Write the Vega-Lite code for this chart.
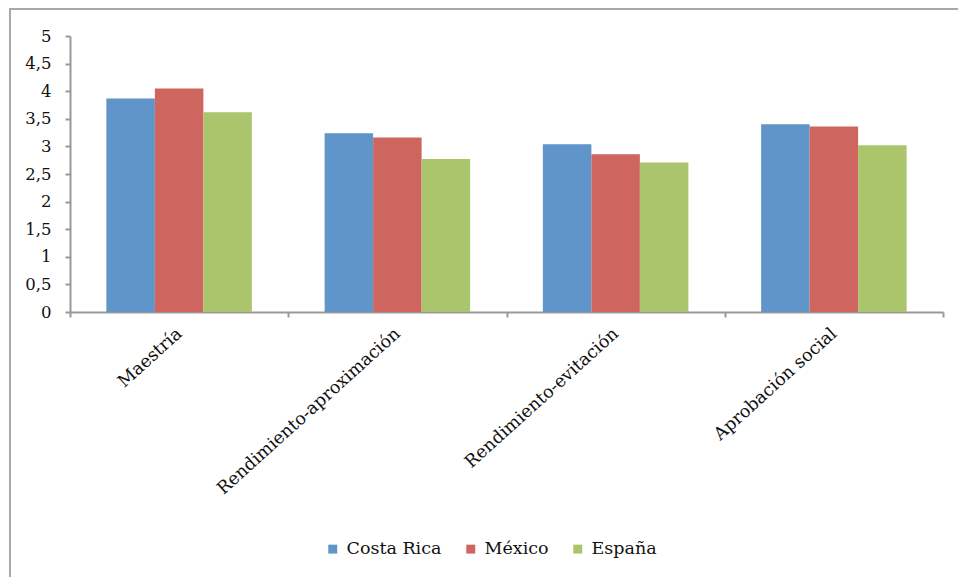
{
  "$schema": "https://vega.github.io/schema/vega-lite/v6.json",
  "width": 948,
  "height": 568,
  "autosize": {"type": "none"},
  "padding": {"left": 10, "top": 9, "right": 0, "bottom": 0},
  "background": "white",
  "config": {
    "view": {"stroke": "#A8A8A8", "strokeWidth": 2, "strokeDash": [948, 1516, 568]},
    "font": "DejaVu Serif"
  },
  "data": {
    "values": [
      {"categoria": "Maestría", "pais": "Costa Rica", "media": 3.87},
      {"categoria": "Maestría", "pais": "México", "media": 4.05},
      {"categoria": "Maestría", "pais": "España", "media": 3.62},
      {"categoria": "Rendimiento-aproximación", "pais": "Costa Rica", "media": 3.24},
      {"categoria": "Rendimiento-aproximación", "pais": "México", "media": 3.16},
      {"categoria": "Rendimiento-aproximación", "pais": "España", "media": 2.77},
      {"categoria": "Rendimiento-evitación", "pais": "Costa Rica", "media": 3.04},
      {"categoria": "Rendimiento-evitación", "pais": "México", "media": 2.86},
      {"categoria": "Rendimiento-evitación", "pais": "España", "media": 2.71},
      {"categoria": "Aprobación social", "pais": "Costa Rica", "media": 3.40},
      {"categoria": "Aprobación social", "pais": "México", "media": 3.36},
      {"categoria": "Aprobación social", "pais": "España", "media": 3.02}
    ]
  },
  "mark": {"type": "bar"},
  "encoding": {
    "x": {
      "field": "categoria",
      "type": "nominal",
      "sort": ["Maestría", "Rendimiento-aproximación", "Rendimiento-evitación", "Aprobación social"],
      "scale": {"range": [{"expr": "60"}, {"expr": "933"}], "paddingInner": 0, "paddingOuter": 0},
      "axis": {
        "title": null,
        "orient": "bottom",
        "offset": -265,
        "labelAngle": -42,
        "labelAlign": "right",
        "labelBaseline": "middle",
        "labelFont": "DejaVu Serif",
        "labelFontSize": 17.5,
        "labelColor": "#111111",
        "labelPadding": 14,
        "labelLimit": 0,
        "tickBand": "extent",
        "tickSize": 5,
        "tickColor": "#999999",
        "domainColor": "#999999",
        "domainWidth": 2,
        "tickWidth": 2,
        "grid": false
      }
    },
    "xOffset": {
      "field": "pais",
      "type": "nominal",
      "sort": ["Costa Rica", "México", "España"],
      "scale": {"paddingInner": 0, "paddingOuter": 0.75}
    },
    "y": {
      "field": "media",
      "type": "quantitative",
      "scale": {"domain": [0, 5], "range": [{"expr": "303"}, {"expr": "27"}], "nice": false},
      "axis": {
        "title": null,
        "orient": "left",
        "offset": -60,
        "values": [0, 0.5, 1, 1.5, 2, 2.5, 3, 3.5, 4, 4.5, 5],
        "labelExpr": "replace(format(datum.value, '~g'), '.', ',')",
        "labelFont": "DejaVu Serif",
        "labelFontSize": 16.5,
        "labelColor": "#111111",
        "labelPadding": 14,
        "tickSize": 5,
        "tickColor": "#999999",
        "tickWidth": 2,
        "domainColor": "#999999",
        "domainWidth": 2,
        "grid": false
      }
    },
    "color": {
      "field": "pais",
      "type": "nominal",
      "sort": ["Costa Rica", "México", "España"],
      "scale": {
        "domain": ["Costa Rica", "México", "España"],
        "range": ["#5F95C8", "#CE665F", "#ABC56D"]
      },
      "legend": {
        "title": null,
        "orient": "none",
        "direction": "horizontal",
        "legendX": 314,
        "legendY": 531,
        "symbolType": "square",
        "symbolSize": 80,
        "symbolStrokeWidth": 0,
        "labelFont": "DejaVu Serif",
        "labelFontSize": 17.5,
        "labelColor": "#111111",
        "labelOffset": 5,
        "columnPadding": 20
      }
    }
  }
}
